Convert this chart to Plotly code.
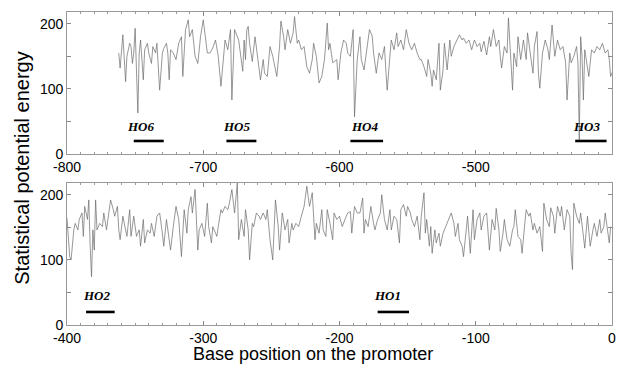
import plotly.graph_objects as go
from plotly.subplots import make_subplots

# ---------------- data ----------------
top_pos = [-762, -761, -759, -757, -756, -754, -753, -752, -751, -750, -748, -747, -746, -745, -744, -743,
           -741, -740, -738, -737, -735, -734, -732, -730, -729, -727, -726, -725, -724, -722, -720, -718,
           -716, -715, -713, -711, -710, -708, -706, -704, -702, -700, -699, -697, -695, -693, -691, -689,
           -687, -685, -684, -682, -680, -679, -677, -674, -672, -671, -670, -669, -668, -667, -666, -664,
           -662, -660, -658, -656, -655, -653, -651, -649, -647, -646, -644, -643, -641, -640, -638, -636,
           -634, -633, -631, -630, -628, -626, -624, -622, -620, -619, -617, -615, -613, -611, -609, -608,
           -607, -605, -602, -601, -599, -597, -595, -594, -592, -590, -589, -587, -585, -584, -582, -580,
           -578, -576, -575, -573, -571, -569, -567, -566, -565, -563, -562, -560, -558, -557, -555, -553,
           -551, -549, -547, -545, -543, -541, -540, -538, -536, -535, -533, -532, -531, -529, -527, -526,
           -524, -523, -521, -519, -518, -516, -514, -512, -510, -509, -507, -505, -503, -501, -499, -497,
           -496, -494, -492, -490, -489, -487, -485, -483, -482, -481, -479, -477, -476, -474, -473, -472,
           -470, -469, -467, -465, -463, -462, -460, -458, -457, -455, -454, -453, -451, -449, -447, -446,
           -444, -442, -440, -438, -436, -434, -433, -431, -430, -428, -426, -425, -424, -423, -422, -421,
           -420, -419, -417, -415, -413, -411, -409, -407, -405, -403, -402, -401, -400]
top_val = [155, 132, 183, 111, 150, 170, 165, 139, 155, 193, 63, 155, 175, 150, 114, 160,
           170, 155, 139, 165, 155, 170, 98, 155, 162, 170, 155, 114, 160, 155, 145, 170,
           180, 119, 191, 206, 180, 191, 150, 139, 180, 206, 186, 155, 155, 163, 175, 150,
           104, 155, 175, 160, 191, 83, 191, 175, 145, 127, 175, 145, 191, 196, 170, 142,
           180, 145, 114, 145, 124, 119, 165, 150, 129, 119, 165, 204, 180, 160, 191, 170,
           186, 211, 170, 175, 160, 165, 134, 124, 145, 170, 150, 109, 119, 145, 201, 160,
           170, 140, 145, 114, 155, 175, 170, 155, 150, 191, 57, 145, 180, 145, 129, 160,
           191, 181, 155, 124, 155, 145, 165, 129, 98, 150, 175, 160, 186, 165, 175, 160,
           191, 170, 160, 170, 155, 145, 145, 134, 119, 145, 124, 104, 129, 114, 170, 98,
           129, 170, 129, 175, 150, 165, 175, 183, 175, 178, 170, 175, 160, 175, 165, 170,
           157, 173, 152, 180, 165, 191, 165, 175, 150, 132, 165, 155, 209, 129, 98, 155,
           134, 180, 145, 175, 145, 186, 155, 124, 165, 188, 124, 101, 155, 175, 160, 145,
           198, 150, 175, 160, 165, 140, 83, 155, 140, 150, 165, 140, 22, 180, 150, 83,
           160, 145, 119, 160, 155, 165, 160, 170, 155, 160, 145, 119, 125]

bot_pos = [-400, -399, -398, -397, -395, -394, -392, -391, -389, -388, -387, -385, -384, -383, -382, -381,
           -380, -379, -378, -376, -374, -373, -371, -370, -368, -366, -365, -363, -362, -361, -359, -358,
           -356, -354, -353, -351, -349, -347, -346, -344, -343, -341, -339, -338, -336, -334, -332, -330,
           -329, -327, -325, -324, -322, -320, -318, -316, -314, -312, -311, -309, -308, -306, -304, -303,
           -301, -299, -297, -296, -294, -293, -292, -290, -289, -287, -286, -284, -282, -281, -279, -277,
           -275, -274, -272, -270, -269, -267, -266, -264, -263, -261, -259, -258, -256, -254, -253, -251,
           -249, -247, -245, -244, -242, -240, -238, -237, -235, -234, -232, -230, -228, -226, -224, -223,
           -222, -220, -218, -217, -215, -213, -212, -210, -209, -207, -205, -204, -202, -200, -198, -196,
           -194, -192, -191, -189, -187, -185, -183, -182, -181, -179, -177, -175, -174, -172, -170, -169,
           -167, -165, -163, -162, -160, -158, -156, -155, -153, -151, -150, -148, -147, -145, -143, -141,
           -140, -138, -137, -136, -134, -133, -132, -130, -129, -127, -126, -124, -122, -120, -118, -116,
           -115, -113, -112, -110, -109, -107, -106, -104, -102, -101, -99, -97, -96, -94, -92, -90,
           -88, -86, -85, -83, -82, -80, -79, -77, -75, -73, -72, -71, -69, -67, -66, -64,
           -63, -61, -60, -58, -57, -55, -53, -51, -50, -48, -46, -45, -43, -42, -40, -38,
           -37, -35, -33, -31, -30, -29, -28, -26, -24, -23, -21, -20, -18, -16, -14, -13,
           -11, -9, -8, -6, -5, -4, -2, -1]
bot_val = [164, 135, 105, 100, 146, 156, 146, 162, 172, 136, 182, 162, 192, 121, 74, 146,
           115, 192, 146, 156, 151, 172, 146, 162, 192, 177, 167, 182, 146, 131, 167, 156,
           136, 177, 136, 167, 136, 146, 121, 162, 126, 146, 141, 156, 136, 167, 172, 141,
           121, 162, 131, 115, 151, 182, 162, 105, 177, 141, 177, 197, 172, 208, 115, 146,
           156, 136, 187, 151, 126, 151, 146, 136, 151, 177, 172, 182, 177, 185, 208, 172,
           218, 131, 162, 136, 177, 146, 100, 156, 151, 172, 167, 162, 172, 162, 177, 131,
           100, 192, 151, 115, 172, 146, 162, 126, 156, 146, 156, 151, 167, 182, 213, 192,
           182, 203, 131, 156, 141, 177, 146, 136, 177, 156, 131, 172, 162, 167, 151, 162,
           172, 174, 141, 182, 172, 172, 195, 141, 162, 151, 182, 156, 146, 162, 172, 200,
           162, 146, 177, 146, 167, 162, 126, 177, 185, 167, 182, 172, 162, 151, 167, 131,
           167, 203, 141, 162, 121, 151, 110, 146, 126, 141, 121, 141, 151, 162, 172, 156,
           136, 156, 131, 121, 105, 146, 167, 110, 177, 131, 162, 172, 146, 167, 172, 115,
           162, 146, 179, 146, 113, 141, 162, 131, 121, 146, 151, 177, 136, 131, 110, 156,
           177, 167, 172, 146, 156, 141, 151, 113, 187, 162, 151, 180, 167, 141, 182, 167,
           182, 146, 177, 167, 110, 85, 187, 167, 156, 172, 141, 118, 167, 121, 146, 156,
           136, 162, 141, 151, 172, 156, 126, 151]

# HO segments: label, start, end, panel (1 = top, 2 = bottom)
ho_labels = ["HO6", "HO5", "HO4", "HO3", "HO2", "HO1"]
ho_start = [-751, -683, -592, -427, -386, -172]
ho_end = [-729, -661, -568, -404, -365, -149]
ho_level = [20, 20, 20, 20, 20, 20]
ho_label_x = [-746, -675, -581, -418, -378, -165]
ho_label_y = [42, 42, 42, 42, 45, 45]
ho_panel = [1, 1, 1, 1, 2, 2]

# axes
x_ranges = [[-800, -400], [-400, 0]]
x_tickvals = [[-800, -700, -600, -500, -400], [-400, -300, -200, -100, 0]]
x_ticktext = [["-800", "-700", "-600", "-500", "-400"], ["-400", "-300", "-200", "-100", "0"]]
y_range = [0, 218]
y_tickvals = [0, 100, 200]
y_ticktext = ["0", "100", "200"]

# ---------------- figure ----------------
fig = make_subplots(rows=2, cols=1, vertical_spacing=0.0926)

line_style = dict(color="#6a6a6a", width=0.7)
fig.add_trace(go.Scatter(x=top_pos, y=top_val, mode="lines", line=line_style,
                         showlegend=False, hoverinfo="skip"), row=1, col=1)
fig.add_trace(go.Scatter(x=bot_pos, y=bot_val, mode="lines", line=line_style,
                         showlegend=False, hoverinfo="skip"), row=2, col=1)

for lab, s, e, lv, lx, ly, p in zip(ho_labels, ho_start, ho_end, ho_level,
                                    ho_label_x, ho_label_y, ho_panel):
    fig.add_trace(go.Scatter(x=[s, e], y=[lv, lv], mode="lines",
                             line=dict(color="black", width=2.6),
                             showlegend=False, hoverinfo="skip"), row=p, col=1)
    fig.add_annotation(x=lx, y=ly, xref=f"x{'' if p == 1 else p}", yref=f"y{'' if p == 1 else p}",
                       text=f"<b><i>{lab}</i></b>", showarrow=False,
                       font=dict(family="Liberation Serif, Times New Roman, serif",
                                 size=13, color="black"))

axis_font = dict(family="Liberation Sans, Arial, sans-serif", size=14, color="black")
for r in (1, 2):
    fig.update_xaxes(range=x_ranges[r - 1], tickmode="array", tickvals=x_tickvals[r - 1],
                     ticktext=x_ticktext[r - 1], ticks="inside", ticklen=4,
                     tickcolor="#888", tickwidth=0.8, showline=True, linecolor="#999",
                     linewidth=0.8, mirror="ticks", showgrid=False, zeroline=False,
                     tickfont=axis_font, automargin=False,
                     minor=dict(dtick=10, tick0=0, ticks="inside", ticklen=2.5,
                                tickcolor="#999", showgrid=False),
                     row=r, col=1)
    fig.update_yaxes(range=y_range, tickmode="array", tickvals=y_tickvals,
                     ticktext=y_ticktext, ticks="inside", ticklen=4,
                     tickcolor="#888", tickwidth=0.8, showline=True, linecolor="#999",
                     linewidth=0.8, mirror="ticks", showgrid=False, zeroline=False,
                     tickfont=axis_font, automargin=False,
                     minor=dict(dtick=50, tick0=0, ticks="inside", ticklen=4,
                                tickcolor="#888", showgrid=False),
                     row=r, col=1)

fig.update_layout(
    width=618, height=361,
    margin=dict(l=59, r=14, t=4, b=44, autoexpand=False),
    paper_bgcolor="white", plot_bgcolor="white",
    font=dict(family="Liberation Sans, Arial, sans-serif", color="black"),
)

fig.add_annotation(text="Statistical potential energy", xref="paper", yref="paper",
                   x=-0.084, y=0.5, xanchor="center", yanchor="middle", textangle=-90,
                   showarrow=False,
                   font=dict(size=20, family="Liberation Sans, Arial, sans-serif", color="black"))
fig.add_annotation(text="Base position on the promoter", xref="paper", yref="paper",
                   x=0.451, y=-0.092, xanchor="center", yanchor="middle", showarrow=False,
                   font=dict(size=18, family="Liberation Sans, Arial, sans-serif", color="black"))

fig.write_html("out.html")
